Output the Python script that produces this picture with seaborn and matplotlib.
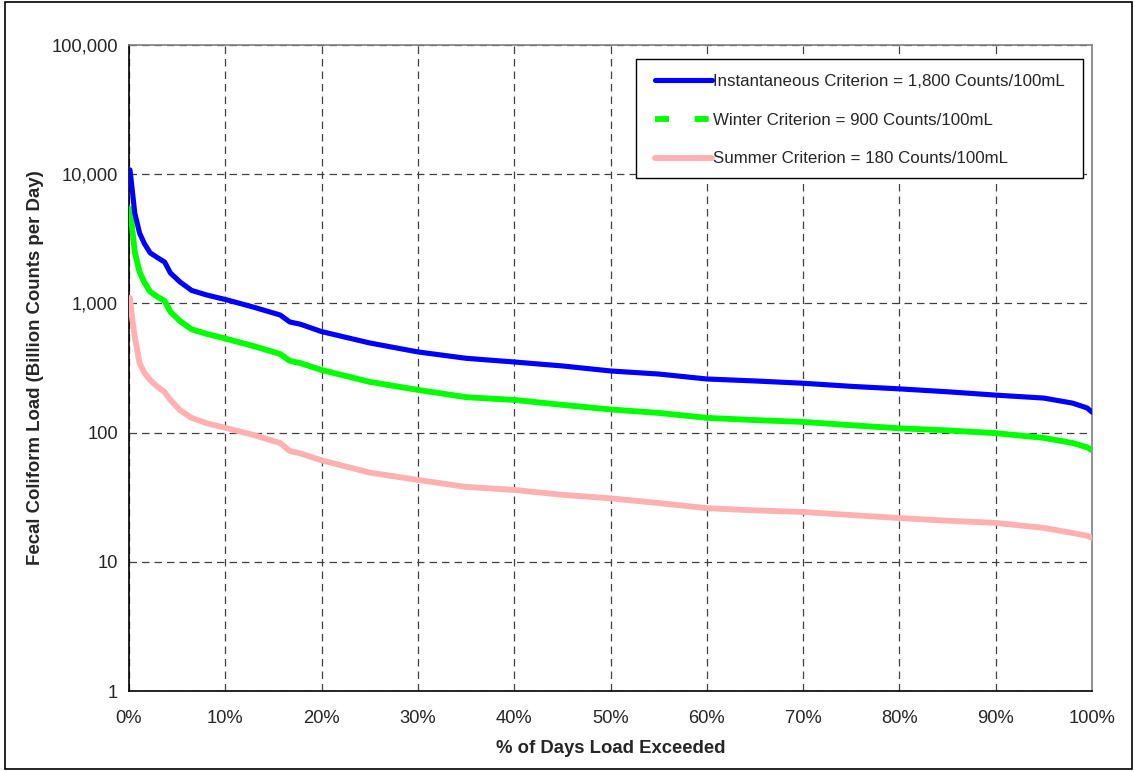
import matplotlib
matplotlib.use("Agg")
import matplotlib.pyplot as plt
import matplotlib.ticker as mticker
from matplotlib.lines import Line2D
from matplotlib.patches import Rectangle
import seaborn as sns
import pandas as pd

# ---- data ----
pct_exceeded = [0.1, 0.3, 0.6, 1.1, 1.6, 2.2, 3.0, 3.7, 4.3, 5.3, 6.5, 8.1, 10.2, 12.9,
                15.7, 16.7, 17.8, 20, 25, 30, 35, 40, 45, 50, 55, 60, 65, 70, 75, 80,
                85, 90, 95, 98, 99.5, 100]
instantaneous = [10800, 8000, 5000, 3500, 2900, 2460, 2250, 2090, 1720, 1465, 1260, 1160,
                 1063, 937, 813, 718, 690, 605, 494, 421, 376, 352, 328, 300, 284, 260,
                 251, 241, 228, 218, 207, 195, 185, 169, 155, 144]
winter = [5400, 4000, 2500, 1750, 1450, 1230, 1120, 1045, 860, 730, 630, 580, 530, 468,
          406, 359, 345, 305, 247, 214, 188, 179, 164, 151, 142, 130, 125, 121, 114, 108,
          104, 99, 91, 83, 77, 73]
summer = [1100, 800, 550, 345, 290, 255, 225, 206, 179, 149, 130, 118, 108, 96, 83, 72,
          69, 61, 49, 43, 38, 36, 33, 31, 28.5, 26, 25, 24.3, 23, 21.8, 20.8, 20, 18.3,
          16.7, 15.9, 15.3]
series_labels = ["Instantaneous Criterion = 1,800 Counts/100mL",
                 "Winter Criterion = 900 Counts/100mL",
                 "Summer Criterion = 180 Counts/100mL"]
x_ticks = [0, 10, 20, 30, 40, 50, 60, 70, 80, 90, 100]
y_ticks = [1, 10, 100, 1000, 10000, 100000]

sns.set_style("white")
plt.rcParams["font.family"] = ["Liberation Sans", "DejaVu Sans"]

W, H = 1135, 771
AX_L, AX_R, AX_T, AX_B = 129, 1092, 45, 691
fig = plt.figure(figsize=(W / 100, H / 100), dpi=100)
ax = fig.add_axes([AX_L / W, 1 - AX_B / H, (AX_R - AX_L) / W, (AX_B - AX_T) / H])


def ax_x(px):
    return (px - AX_L) / (AX_R - AX_L)


def ax_y(py):
    return (AX_B - py) / (AX_B - AX_T)


df = pd.DataFrame({"x": pct_exceeded, "inst": instantaneous, "win": winter, "sum": summer})

sns.lineplot(data=df, x="x", y="sum", ax=ax, color="#FFB0B0", lw=4.2, zorder=3)
sns.lineplot(data=df, x="x", y="win", ax=ax, color="#00FF00", lw=4.2, zorder=4)
sns.lineplot(data=df, x="x", y="inst", ax=ax, color="#0000FF", lw=3.7, zorder=5)

ax.set_yscale("log")
ax.set_xlim(0, 100)
ax.set_ylim(1, 100000)
ax.yaxis.set_major_locator(mticker.FixedLocator(y_ticks))
ax.yaxis.set_minor_locator(mticker.NullLocator())
ax.yaxis.set_major_formatter(mticker.FuncFormatter(lambda v, p: f"{int(round(v)):,}"))
ax.xaxis.set_major_locator(mticker.FixedLocator(x_ticks))
ax.xaxis.set_major_formatter(mticker.FuncFormatter(lambda v, p: f"{int(v)}%"))

ax.grid(True, which="major", color="#404040", linestyle=(0, (6, 4)), lw=0.9, zorder=1)
ax.set_axisbelow(True)

for s in ["left", "bottom"]:
    ax.spines[s].set_color("black")
    ax.spines[s].set_linewidth(1.2)
for s in ["top", "right"]:
    ax.spines[s].set_color("#808080")
    ax.spines[s].set_linewidth(1.2)

ax.tick_params(axis="both", which="major", direction="out", length=5, width=1,
               color="black", labelsize=13.2, pad=3)
ax.tick_params(axis="x", pad=9)

ax.set_xlabel("% of Days Load Exceeded", fontsize=13.3, fontweight="bold", labelpad=9)
ax.set_ylabel("Fecal Coliform Load (Billion Counts per Day)", fontsize=13.4,
              fontweight="bold", labelpad=5)

handles = [
    Line2D([], [], color="#0000FF", lw=3.7),
    Line2D([], [], color="#00FF00", lw=4.2, linestyle=(0, (2.4, 4.4))),
    Line2D([], [], color="#FFB0B0", lw=4.2),
]
leg = ax.legend(handles, series_labels, loc="upper left",
                bbox_to_anchor=(ax_x(655), ax_y(74)),
                borderaxespad=0, borderpad=0, fontsize=12.2, handlelength=3.35,
                handletextpad=0.05, labelspacing=1.4, frameon=False)
leg.set_zorder(10)

# legend box
ax.add_patch(Rectangle((ax_x(636), ax_y(178)), ax_x(1083) - ax_x(636),
                       ax_y(59) - ax_y(178), transform=ax.transAxes, facecolor="white",
                       edgecolor="black", lw=1.0, zorder=9))

fig.patches.append(Rectangle((5 / W, 2 / H), 1127 / W, 767 / H,
                             transform=fig.transFigure, fill=False, edgecolor="black",
                             lw=1.2))

fig.savefig("out.png", dpi=100)
